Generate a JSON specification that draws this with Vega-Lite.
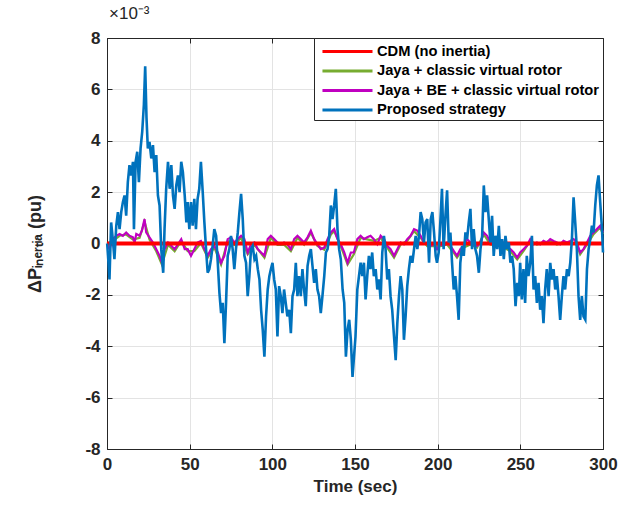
{
  "$schema": "https://vega.github.io/schema/vega-lite/v6.json",
  "width": 496,
  "height": 411,
  "autosize": {"type": "none"},
  "padding": {"left": 107, "top": 38, "right": 16, "bottom": 56},
  "title": {"text": "×10⁻³", "anchor": "start", "frame": "group", "offset": 6, "fontSize": 17, "fontWeight": "normal", "font": "Liberation Sans", "color": "#262626", "dx": 2},
  "config": {
    "view": {"stroke": "#262626", "strokeWidth": 1},
    "font": "Liberation Sans",
    "axis": {"labelFont": "Liberation Sans", "labelFontSize": 17, "labelFontWeight": "bold", "labelColor": "#262626", "titleFont": "Liberation Sans", "titleFontSize": 17, "titleFontWeight": "bold", "titleColor": "#262626", "domainColor": "#262626", "tickColor": "#262626", "tickSize": -5, "gridColor": "#e3e3e3", "gridWidth": 1, "labelFlush": false},
    "legend": {"orient": "top-right", "offset": 0, "padding": 3, "strokeColor": "#262626", "fillColor": "white", "labelFont": "Liberation Sans", "labelFontSize": 14.7, "labelFontWeight": "bold", "labelColor": "black", "symbolType": "M-0.56,0H5", "symbolSize": 324, "symbolStrokeWidth": 3, "rowPadding": 1.5, "labelOffset": 39, "labelLimit": 400}
  },
  "datasets": {
    "cdm": [{"t": 0, "v": 0}, {"t": 300, "v": 0}],
    "jaya": [
      {"t":0,"v":0},{"t":3.5,"v":0.1},{"t":7.6,"v":0.3},{"t":11.6,"v":0.35},{"t":15.7,"v":0.15},{"t":19.7,"v":0.22},{"t":22.7,"v":0.85},{"t":25.7,"v":0.15},{"t":29.8,"v":-0.3},{"t":33.2,"v":-0.82},{"t":36.9,"v":-0.05},{"t":40.9,"v":-0.3},{"t":44.9,"v":0.1},{"t":48.8,"v":-0.3},{"t":52.8,"v":-0.3},{"t":56.8,"v":0.02},{"t":60.9,"v":-0.55},{"t":64.9,"v":-0.15},{"t":69.0,"v":-0.82},{"t":73.0,"v":0.1},{"t":77.0,"v":-0.05},{"t":81.1,"v":0.22},{"t":85.1,"v":-0.42},{"t":89.2,"v":-0.05},{"t":95.2,"v":-0.55},{"t":99.1,"v":0.22},{"t":103.1,"v":-0.05},{"t":107.1,"v":-0.05},{"t":111.2,"v":-0.3},{"t":115.2,"v":0.22},{"t":119.2,"v":-0.05},{"t":123.3,"v":0.42},{"t":127.3,"v":-0.1},{"t":131.4,"v":-0.24},{"t":135.4,"v":0.35},{"t":137.4,"v":0.48},{"t":141.4,"v":-0.1},{"t":145.5,"v":-0.82},{"t":149.3,"v":-0.42},{"t":153.4,"v":0.22},{"t":157.4,"v":0.16},{"t":161.4,"v":0.1},{"t":165.5,"v":0.22},{"t":169.5,"v":-0.16},{"t":173.6,"v":-0.55},{"t":177.6,"v":-0.04},{"t":181.6,"v":0.1},{"t":185.7,"v":0.48},{"t":189.7,"v":0.22},{"t":193.7,"v":-0.1},{"t":197.8,"v":-0.1},{"t":201.6,"v":-0.1},{"t":205.7,"v":-0.04},{"t":209.7,"v":-0.36},{"t":211.7,"v":-0.55},{"t":215.8,"v":-0.16},{"t":219.8,"v":-0.04},{"t":223.8,"v":-0.16},{"t":227.9,"v":0.35},{"t":231.9,"v":-0.04},{"t":236.0,"v":-0.04},{"t":240.0,"v":-0.16},{"t":244.0,"v":-0.3},{"t":248.1,"v":-0.62},{"t":251.9,"v":-0.3},{"t":256.0,"v":0.1},{"t":260.0,"v":-0.04},{"t":264.0,"v":0.03},{"t":268.1,"v":0.1},{"t":272.1,"v":-0.04},{"t":276.1,"v":0.03},{"t":280.2,"v":0.03},{"t":284.2,"v":-0.04},{"t":286.2,"v":-0.42},{"t":290.3,"v":-0.04},{"t":294.3,"v":0.36},{"t":298.3,"v":0.62},{"t":300,"v":0.36}
    ],
    "jayabe": [
      {"t":0.1,"v":-0.03},{"t":1.5,"v":-0.22},{"t":3.5,"v":0.17},{"t":5.6,"v":0.3},{"t":7.6,"v":0.37},{"t":9.6,"v":0.3},{"t":11.6,"v":0.43},{"t":13.6,"v":0.3},{"t":15.7,"v":0.24},{"t":16.7,"v":0.04},{"t":17.7,"v":0.37},{"t":19.7,"v":0.3},{"t":21.1,"v":0.5},{"t":22.7,"v":0.95},{"t":23.7,"v":0.43},{"t":25.7,"v":0.24},{"t":27.8,"v":0.04},{"t":29.8,"v":-0.22},{"t":31.8,"v":-0.48},{"t":33.2,"v":-0.75},{"t":34.8,"v":-0.22},{"t":36.9,"v":0.04},{"t":38.9,"v":-0.09},{"t":40.9,"v":-0.22},{"t":42.9,"v":-0.03},{"t":44.9,"v":0.17},{"t":47.0,"v":-0.22},
      {"t":48.8,"v":-0.22},{"t":50.8,"v":-0.48},{"t":52.8,"v":-0.22},{"t":54.8,"v":0.04},{"t":56.8,"v":0.10},{"t":58.9,"v":-0.22},{"t":60.9,"v":-0.48},{"t":62.9,"v":-0.22},{"t":64.9,"v":-0.09},{"t":67.0,"v":-0.35},{"t":69.0,"v":-0.75},{"t":71.0,"v":-0.48},{"t":73.0,"v":0.17},{"t":75.0,"v":0.24},{"t":77.0,"v":0.04},{"t":79.1,"v":0.17},{"t":81.1,"v":0.30},{"t":83.1,"v":0.17},{"t":85.1,"v":-0.35},{"t":87.1,"v":-0.03},{"t":89.2,"v":0.04},{"t":91.2,"v":-0.22},{"t":93.2,"v":-0.35},{"t":95.2,"v":-0.48},{"t":97.2,"v":0.17},
      {"t":99.1,"v":0.30},{"t":101.1,"v":0.17},{"t":103.1,"v":0.04},{"t":105.1,"v":-0.03},{"t":107.1,"v":0.04},{"t":109.1,"v":-0.03},{"t":111.2,"v":-0.22},{"t":113.2,"v":0.17},{"t":115.2,"v":0.30},{"t":117.2,"v":0.17},{"t":119.2,"v":0.04},{"t":121.3,"v":0.24},{"t":123.3,"v":0.50},{"t":125.3,"v":0.17},{"t":127.3,"v":-0.03},{"t":129.3,"v":-0.22},{"t":131.4,"v":-0.16},{"t":133.4,"v":0.17},{"t":135.4,"v":0.43},{"t":137.4,"v":0.56},{"t":139.4,"v":0.17},{"t":141.4,"v":-0.03},{"t":143.5,"v":-0.35},{"t":145.5,"v":-0.75},{"t":147.5,"v":-0.35},
      {"t":149.3,"v":-0.35},{"t":151.4,"v":0.17},{"t":153.4,"v":0.30},{"t":155.4,"v":0.17},{"t":157.4,"v":0.24},{"t":159.4,"v":0.30},{"t":161.4,"v":0.17},{"t":163.5,"v":-0.03},{"t":165.5,"v":0.30},{"t":167.5,"v":0.17},{"t":169.5,"v":-0.09},{"t":171.5,"v":-0.22},{"t":173.6,"v":-0.48},{"t":175.6,"v":-0.22},{"t":177.6,"v":0.04},{"t":179.6,"v":-0.03},{"t":181.6,"v":0.17},{"t":183.6,"v":0.30},{"t":185.7,"v":0.56},{"t":187.7,"v":0.50},{"t":189.7,"v":0.30},{"t":191.7,"v":0.04},{"t":193.7,"v":-0.03},{"t":195.8,"v":-0.09},{"t":197.8,"v":-0.03},
      {"t":199.6,"v":-0.22},{"t":201.6,"v":-0.03},{"t":203.6,"v":-0.09},{"t":205.7,"v":0.04},{"t":207.7,"v":-0.09},{"t":209.7,"v":-0.29},{"t":211.7,"v":-0.48},{"t":213.7,"v":-0.22},{"t":215.8,"v":-0.09},{"t":217.8,"v":0.17},{"t":219.8,"v":0.04},{"t":221.8,"v":-0.03},{"t":223.8,"v":-0.09},{"t":225.9,"v":0.04},{"t":227.9,"v":0.43},{"t":229.9,"v":0.30},{"t":231.9,"v":0.04},{"t":233.9,"v":-0.09},{"t":236.0,"v":0.04},{"t":238.0,"v":-0.03},{"t":240.0,"v":-0.09},{"t":242.0,"v":-0.16},{"t":244.0,"v":-0.22},{"t":246.0,"v":-0.35},{"t":248.1,"v":-0.55},
      {"t":249.9,"v":-0.35},{"t":251.9,"v":-0.22},{"t":253.9,"v":-0.09},{"t":256.0,"v":0.17},{"t":258.0,"v":-0.03},{"t":260.0,"v":0.04},{"t":262.0,"v":-0.03},{"t":264.0,"v":0.10},{"t":266.0,"v":0.04},{"t":268.1,"v":0.17},{"t":270.1,"v":0.10},{"t":272.1,"v":0.04},{"t":274.1,"v":-0.03},{"t":276.1,"v":0.10},{"t":278.2,"v":0.04},{"t":280.2,"v":0.10},{"t":282.2,"v":0.17},{"t":284.2,"v":0.04},{"t":286.2,"v":-0.35},{"t":288.2,"v":-0.22},{"t":290.3,"v":0.04},{"t":292.3,"v":0.30},{"t":294.3,"v":0.43},{"t":296.3,"v":0.56},{"t":298.3,"v":0.69},{"t":300,"v":0.43}
    ],
    "proposed": [
      {"t":0.1,"v":0},{"t":0.9,"v":-0.75},{"t":1.5,"v":-1.4},{"t":2.5,"v":0.82},{"t":3.5,"v":0.17},{"t":4.5,"v":-0.61},{"t":5.6,"v":0.69},{"t":6.6,"v":1.22},{"t":7.6,"v":0.56},{"t":8.6,"v":1.22},{"t":9.6,"v":1.61},{"t":10.6,"v":1.87},{"t":11.6,"v":1.08},{"t":12.6,"v":2.39},{"t":13.6,"v":3.05},{"t":14.6,"v":2.65},{"t":15.7,"v":3.18},{"t":16.3,"v":0.56},{"t":17.3,"v":3.18},{"t":18.3,"v":3.57},{"t":19.3,"v":2.39},{"t":20.3,"v":3.70},{"t":21.3,"v":4.35},{"t":22.3,"v":5.40},{"t":23.1,"v":6.90},{"t":23.9,"v":4.88},{"t":24.7,"v":3.70},{"t":25.7,"v":3.96},{"t":26.8,"v":3.31},{"t":27.8,"v":3.83},{"t":28.8,"v":2.78},{"t":29.8,"v":3.44},{"t":30.8,"v":1.87},{"t":31.8,"v":1.48},{"t":32.8,"v":-0.22},{"t":34.0,"v":-1.14},{"t":34.8,"v":0.56},{"t":35.8,"v":2.13},{"t":36.9,"v":3.18},{"t":37.9,"v":2.13},{"t":38.9,"v":3.05},{"t":39.9,"v":1.87},{"t":40.9,"v":1.35},{"t":41.9,"v":2.26},{"t":42.9,"v":2.65},{"t":43.9,"v":2.0},{"t":44.9,"v":3.18},{"t":45.9,"v":2.78},{"t":47.0,"v":1.87},{"t":48.0,"v":0.82},
      {"t":48.8,"v":1.61},{"t":49.8,"v":0.56},{"t":50.8,"v":1.61},{"t":51.8,"v":0.69},{"t":52.8,"v":1.74},{"t":53.8,"v":0.56},{"t":54.8,"v":1.74},{"t":55.8,"v":2.13},{"t":56.8,"v":3.18},{"t":57.9,"v":2.0},{"t":58.9,"v":0.82},{"t":59.9,"v":-0.22},{"t":60.9,"v":-1.14},{"t":61.9,"v":-1.0},{"t":62.9,"v":-0.61},{"t":63.9,"v":-0.09},{"t":64.9,"v":0.56},{"t":66.0,"v":0.3},{"t":67.0,"v":-0.75},{"t":68.0,"v":-1.92},{"t":69.0,"v":-2.71},{"t":70.0,"v":-2.31},{"t":71.0,"v":-3.88},{"t":72.0,"v":-2.31},{"t":73.0,"v":-0.48},{"t":74.0,"v":-0.22},{"t":75.0,"v":0.3},{"t":76.0,"v":-0.22},{"t":77.0,"v":-1.0},{"t":78.0,"v":-0.22},{"t":79.1,"v":0.43},{"t":80.1,"v":1.22},{"t":81.1,"v":1.93},{"t":82.1,"v":0.95},{"t":83.1,"v":-0.48},{"t":84.1,"v":-0.75},{"t":85.1,"v":-2.05},{"t":86.1,"v":-1.27},{"t":87.1,"v":-0.22},{"t":88.1,"v":-0.09},{"t":89.2,"v":-0.61},{"t":90.2,"v":-0.48},{"t":91.2,"v":-1.0},{"t":92.2,"v":-1.40},{"t":93.2,"v":-2.58},{"t":94.2,"v":-3.36},{"t":95.2,"v":-4.41},{"t":96.2,"v":-2.84},{"t":97.2,"v":-1.79},{"t":98.2,"v":-1.27},
      {"t":99.1,"v":-1.0},{"t":100.1,"v":-0.75},{"t":101.1,"v":-1.40},{"t":102.1,"v":-1.79},{"t":103.1,"v":-3.62},{"t":104.1,"v":-1.66},{"t":105.1,"v":-2.05},{"t":106.1,"v":-2.71},{"t":107.1,"v":-1.79},{"t":108.1,"v":-2.31},{"t":109.1,"v":-2.84},{"t":110.2,"v":-2.58},{"t":111.2,"v":-3.49},{"t":112.2,"v":-2.05},{"t":113.2,"v":-1.79},{"t":114.2,"v":-0.75},{"t":115.2,"v":-2.05},{"t":116.2,"v":-1.27},{"t":117.2,"v":-2.05},{"t":118.2,"v":-1.0},{"t":119.2,"v":-1.79},{"t":120.2,"v":-2.44},{"t":121.3,"v":-0.88},{"t":122.3,"v":-0.48},{"t":123.3,"v":-0.22},{"t":124.3,"v":-0.88},{"t":125.3,"v":-1.53},{"t":126.3,"v":-1.0},{"t":127.3,"v":-1.79},{"t":128.3,"v":-2.05},{"t":129.3,"v":-2.71},{"t":130.3,"v":-2.05},{"t":131.4,"v":-1.27},{"t":132.4,"v":-0.35},{"t":133.4,"v":-0.22},{"t":134.4,"v":0.3},{"t":135.4,"v":1.48},{"t":136.4,"v":0.95},{"t":137.4,"v":1.48},{"t":138.4,"v":2.13},{"t":139.4,"v":0.56},{"t":140.4,"v":-0.22},{"t":141.4,"v":-0.61},{"t":142.5,"v":-1.79},{"t":143.5,"v":-2.31},{"t":144.5,"v":-4.41},{"t":145.5,"v":-3.36},{"t":146.5,"v":-2.97},{"t":147.5,"v":-3.75},{"t":148.5,"v":-5.19},
      {"t":150.3,"v":-3.62},{"t":151.4,"v":-1.79},{"t":152.4,"v":-1.27},{"t":153.4,"v":-0.75},{"t":154.4,"v":-1.27},{"t":155.4,"v":-0.75},{"t":156.4,"v":-2.18},{"t":157.4,"v":-1.27},{"t":158.4,"v":-0.48},{"t":159.4,"v":-1.0},{"t":160.4,"v":-0.35},{"t":161.4,"v":-1.27},{"t":162.5,"v":-1.0},{"t":163.5,"v":-1.79},{"t":164.5,"v":-1.40},{"t":165.5,"v":-2.18},{"t":166.5,"v":-0.35},{"t":167.5,"v":0.3},{"t":168.5,"v":-0.22},{"t":169.5,"v":-1.40},{"t":170.5,"v":-1.0},{"t":171.5,"v":-2.05},{"t":172.5,"v":-2.58},{"t":173.6,"v":-3.62},{"t":174.6,"v":-4.54},{"t":175.6,"v":-3.10},{"t":176.6,"v":-2.05},{"t":177.6,"v":-1.27},{"t":178.6,"v":-1.79},{"t":179.6,"v":-3.75},{"t":180.6,"v":-2.84},{"t":181.6,"v":-1.66},{"t":182.6,"v":-1.0},{"t":183.6,"v":-0.48},{"t":184.7,"v":-0.75},{"t":185.7,"v":-0.22},{"t":186.7,"v":0.3},{"t":187.7,"v":-0.22},{"t":188.7,"v":0.3},{"t":189.7,"v":1.22},{"t":190.7,"v":0.95},{"t":191.7,"v":0.04},{"t":192.7,"v":0.82},{"t":193.7,"v":0.95},{"t":194.8,"v":-0.75},{"t":195.8,"v":0.95},{"t":196.8,"v":1.22},{"t":197.8,"v":0.43},{"t":198.8,"v":-0.48},
      {"t":199.6,"v":-0.75},{"t":200.6,"v":-0.35},{"t":201.6,"v":0.82},{"t":202.6,"v":2.13},{"t":203.6,"v":-0.22},{"t":204.7,"v":1.08},{"t":205.7,"v":2.07},{"t":206.7,"v":0.04},{"t":207.7,"v":0.43},{"t":208.7,"v":-0.75},{"t":209.7,"v":-1.79},{"t":210.7,"v":-1.27},{"t":211.7,"v":-2.05},{"t":212.7,"v":-2.97},{"t":213.7,"v":-0.75},{"t":214.8,"v":-0.09},{"t":215.8,"v":-0.48},{"t":216.8,"v":0.43},{"t":217.8,"v":0.17},{"t":218.8,"v":0.82},{"t":219.8,"v":1.35},{"t":220.8,"v":-0.22},{"t":221.8,"v":0.56},{"t":222.8,"v":-0.22},{"t":223.8,"v":-0.48},{"t":224.9,"v":-1.14},{"t":225.9,"v":-0.22},{"t":226.9,"v":0.3},{"t":227.9,"v":2.26},{"t":228.9,"v":1.22},{"t":229.9,"v":1.87},{"t":230.9,"v":0.95},{"t":231.9,"v":0.04},{"t":232.9,"v":1.08},{"t":233.9,"v":-0.48},{"t":234.9,"v":0.3},{"t":236.0,"v":-0.22},{"t":237.0,"v":0.69},{"t":238.0,"v":-0.48},{"t":239.0,"v":0.17},{"t":240.0,"v":-0.61},{"t":241.0,"v":0.3},{"t":242.0,"v":-0.22},{"t":243.0,"v":0.04},{"t":244.0,"v":-0.75},{"t":245.0,"v":-0.48},{"t":246.0,"v":-1.0},{"t":247.1,"v":-2.44},{"t":248.1,"v":-1.53},{"t":249.1,"v":-2.05},
      {"t":249.9,"v":-0.75},{"t":250.9,"v":-2.18},{"t":251.9,"v":-1.0},{"t":252.9,"v":-2.31},{"t":253.9,"v":-0.48},{"t":254.9,"v":-1.27},{"t":256.0,"v":-0.75},{"t":257.0,"v":0.3},{"t":258.0,"v":-1.79},{"t":259.0,"v":-1.27},{"t":260.0,"v":-2.31},{"t":261.0,"v":-1.53},{"t":262.0,"v":-2.58},{"t":263.0,"v":-2.05},{"t":264.0,"v":-3.10},{"t":265.0,"v":-1.79},{"t":266.0,"v":-1.0},{"t":267.1,"v":-2.05},{"t":268.1,"v":-0.75},{"t":269.1,"v":-1.40},{"t":270.1,"v":-1.0},{"t":271.1,"v":-1.79},{"t":272.1,"v":-1.27},{"t":273.1,"v":-2.05},{"t":274.1,"v":-2.97},{"t":275.1,"v":-2.05},{"t":276.1,"v":-1.27},{"t":277.1,"v":-1.79},{"t":278.2,"v":-1.0},{"t":279.2,"v":-1.27},{"t":280.2,"v":-0.75},{"t":281.2,"v":0.17},{"t":282.2,"v":1.80},{"t":283.2,"v":0.82},{"t":284.2,"v":-0.22},{"t":285.2,"v":-2.05},{"t":286.2,"v":-2.97},{"t":287.2,"v":-2.05},{"t":288.2,"v":-2.84},{"t":289.3,"v":-2.97},{"t":290.3,"v":-1.0},{"t":291.3,"v":-0.22},{"t":292.3,"v":0.17},{"t":293.3,"v":0.69},{"t":294.3,"v":0.43},{"t":295.3,"v":1.48},{"t":296.3,"v":2.26},{"t":297.3,"v":2.65},{"t":298.3,"v":1.61},{"t":299.4,"v":0.56},{"t":300,"v":-0.35}
    ]
  },
  "resolve": {"axis": {"x": "independent", "y": "independent"}},
  "layer": [
    {
      "encoding": {
        "x": {"field": "t", "type": "quantitative", "scale": {"domain": [0, 300], "nice": false}, "axis": {"values": [0, 50, 100, 150, 200, 250, 300], "title": "Time (sec)", "labelPadding": 12, "titlePadding": 6, "labelExpr": "'' + datum.value"}},
        "y": {"field": "v", "type": "quantitative", "scale": {"domain": [-8, 8], "nice": false}, "axis": {"values": [-8, -6, -4, -2, 0, 2, 4, 6, 8], "title": "ΔPᵢₙₑᵣₜᵢₐ (pu)", "titleFontSize": 18, "labelPadding": 12, "titlePadding": 40, "labelExpr": "'' + datum.value"}}
      },
      "layer": [
        {"data": {"name": "jaya"}, "mark": {"type": "line", "strokeWidth": 2.2}, "encoding": {"color": {"datum": "\u00a0Jaya + classic virtual rotor", "type": "nominal", "scale": {"domain": ["CDM (no inertia)", "\u00a0Jaya + classic virtual rotor", "Jaya + BE + classic virtual rotor", "Proposed strategy"], "range": ["#ff0000", "#77ac30", "#c000c0", "#0072bd"]}, "legend": {"title": null}}}},
        {"data": {"name": "jayabe"}, "mark": {"type": "line", "strokeWidth": 2.2}, "encoding": {"color": {"datum": "Jaya + BE + classic virtual rotor", "type": "nominal"}}},
        {"data": {"name": "cdm"}, "mark": {"type": "line", "strokeWidth": 4}, "encoding": {"color": {"datum": "CDM (no inertia)", "type": "nominal"}}},
        {"data": {"name": "proposed"}, "mark": {"type": "line", "strokeWidth": 2.6}, "encoding": {"color": {"datum": "Proposed strategy", "type": "nominal"}}}
      ]
    },
    {
      "data": {"name": "cdm"},
      "mark": {"type": "point", "opacity": 0},
      "encoding": {
        "x": {"field": "t", "type": "quantitative", "axis": {"orient": "top", "values": [0, 50, 100, 150, 200, 250, 300], "labels": false, "grid": false, "title": null}},
        "y": {"field": "v", "type": "quantitative", "axis": {"orient": "right", "values": [-8, -6, -4, -2, 0, 2, 4, 6, 8], "labels": false, "grid": false, "title": null}}
      }
    }
  ]
}
